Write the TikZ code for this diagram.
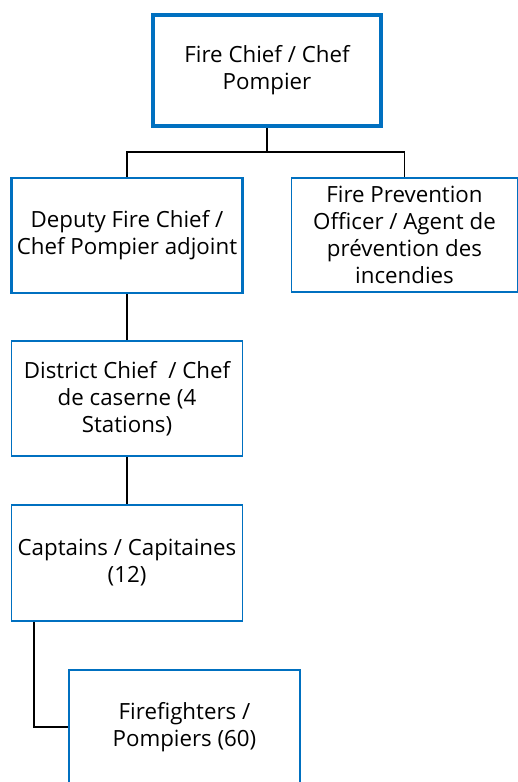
\documentclass[tikz,border=0pt]{standalone}
\usepackage{fontspec}
\setmainfont{Open Sans}
\usepackage{xcolor}
\usetikzlibrary{positioning}
\definecolor{boxblue}{HTML}{0070C0}

\begin{document}
\begin{tikzpicture}[x=1pt,y=-1pt,
  rolebox/.style={draw=boxblue,line width=1.6pt,fill=white,inner sep=0pt,
    minimum width=231pt,minimum height=115pt,align=center,
    font=\fontsize{22.3}{27}\selectfont},
  link/.style={draw=black,line width=1.6pt}]
\useasboundingbox (0,0) rectangle (518,782);
  \node[rolebox,line width=4pt,minimum width=228pt,minimum height=111pt] (chief) at (267,70.5) {Fire Chief / Chef\\Pompier};
  \node[rolebox,line width=2.4pt] (deputy) at (127,235.5) {Deputy Fire Chief /\\Chef Pompier adjoint};
  \node[rolebox,minimum width=226pt,minimum height=114pt] (prev) at (404.5,235) {Fire Prevention\\Officer / Agent de\\prévention des\\incendies};
  \node[rolebox] (district) at (127,398.5) {District Chief~ / Chef\\de caserne (4\\Stations)};
  \node[rolebox,minimum height=116pt] (capt) at (127,563) {Captains / Capitaines\\(12)};
  \node[rolebox,minimum height=114pt] (ff) at (184.5,727) {Firefighters /\\Pompiers (60)};
  \coordinate (split) at (267,152);
  \coordinate (elbow) at (34,0);
  % connectors
  \draw[link] (chief.south) -- (split) -| (deputy.north);
  \draw[link] (split) -| (prev.north);
  \draw[link] (deputy.south) -- (district.north);
  \draw[link] (district.south) -- (capt.north);
  \draw[link] (capt.south -| elbow) |- (ff.west);
\end{tikzpicture}
\end{document}
